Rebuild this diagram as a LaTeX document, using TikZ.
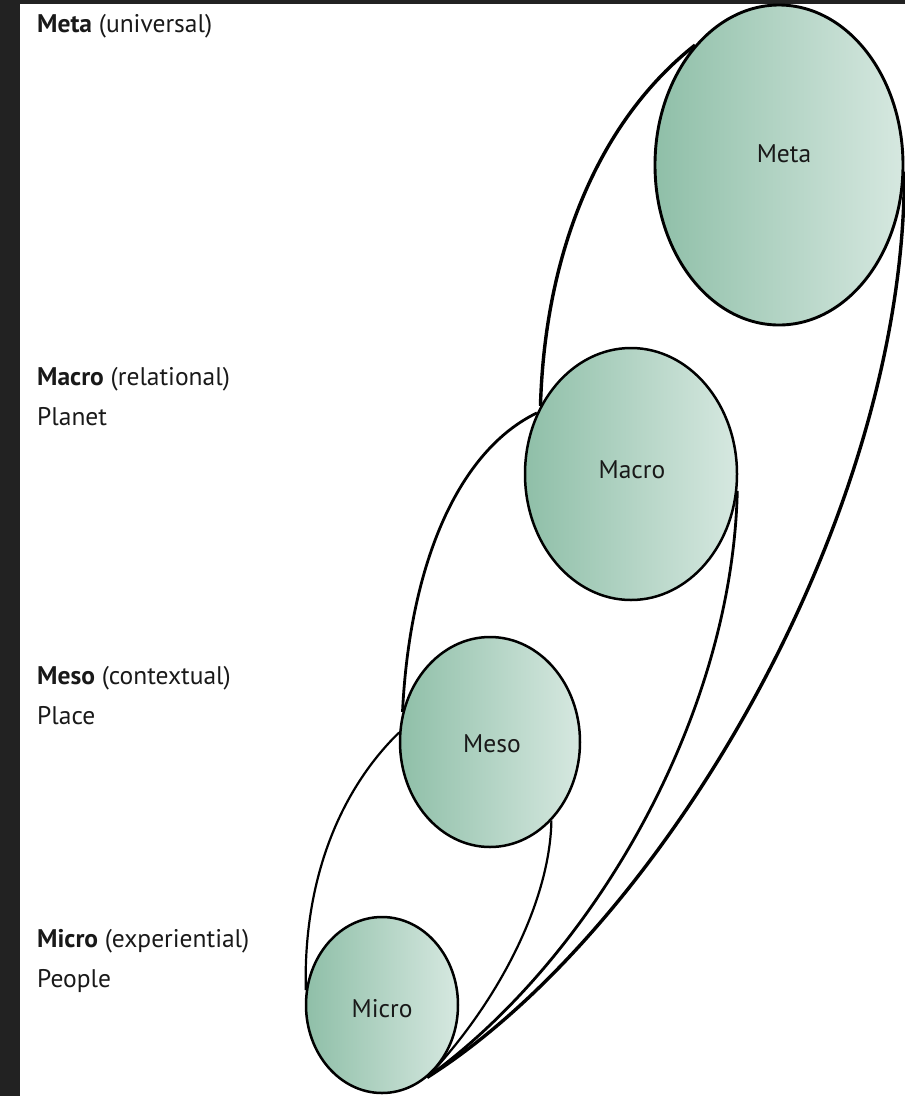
\documentclass[tikz,border=0pt]{standalone}
\usepackage{fontspec}
\setmainfont{PT Sans}
\usetikzlibrary{shapes.geometric}
\definecolor{framegrey}{HTML}{222222}
\definecolor{greenL}{HTML}{8FBFA8}
\definecolor{greenR}{HTML}{D6E8E0}
\tikzset{
  bubble/.style={ellipse, draw=black, line width=2.5pt, left color=greenL, right color=greenR, inner sep=0pt},
  envthick/.style={draw=black, line width=3.4pt},
  envmid/.style={draw=black, line width=2.8pt},
  envthin/.style={draw=black, line width=2.2pt},
  lbl/.style={font=\fontsize{25.5}{30}\selectfont, inner sep=0pt, text=black!90},
  side/.style={lbl, anchor=base west},
  inner/.style={lbl, anchor=base}
}
\begin{document}
\begin{tikzpicture}[x=1pt,y=-1pt]
\useasboundingbox (0,0) rectangle (905,1096);
\fill[white] (0,0) rectangle (905,1096);
% dark frame strips
\fill[framegrey] (0,0) rectangle (20,1096);
\fill[framegrey] (0,0) rectangle (905,4);

% the four levels
\node[bubble, line width=2.9pt, minimum width=248pt, minimum height=320pt] (meta) at (779,165) {};
\node[bubble, minimum width=212pt, minimum height=252pt] (macro) at (631,474) {};
\node[bubble, minimum width=180pt, minimum height=210pt] (meso) at (490,742) {};
\node[bubble, minimum width=152pt, minimum height=176pt] (micro) at (382,1005) {};

% nested envelopes
\draw[envthick] (micro.-58) .. controls (660,930) and (905,520) .. (meta.-3);
\draw[envmid] (micro.-58) .. controls (590,960) and (732,720) .. (macro.-9);
\draw[envthin] (micro.-58) .. controls (500,1000) and (550,900) .. (meso.-52);
\draw[envthin] (micro.169) .. controls (303,880) and (340,790) .. (meso.174);
\draw[envmid] (meso.161) .. controls (410,560) and (460,450) .. (macro.147);
\draw[envthick] (macro.143) .. controls (545,250) and (600,120) .. (meta.125);

% labels inside the bubbles
\node[inner] (tmeta) at (784,162) {Meta};
\node[inner] (tmacro) at (632,478) {Macro};
\node[inner] (tmeso) at (492,752) {Meso};
\node[inner] (tmicro) at (382,1017) {Micro};

% level captions
\node[side] (lmeta) at (37,32) {\textbf{Meta} (universal)};
\node[side] (lmacro) at (37,385) {\textbf{Macro} (relational)};
\node[side] (lplanet) at (37,425) {Planet};
\node[side] (lmeso) at (37,684) {\textbf{Meso} (contextual)};
\node[side] (lplace) at (37,724) {Place};
\node[side] (lmicro) at (37,947) {\textbf{Micro} (experiential)};
\node[side] (lpeople) at (37,987) {People};
\end{tikzpicture}
\end{document}
